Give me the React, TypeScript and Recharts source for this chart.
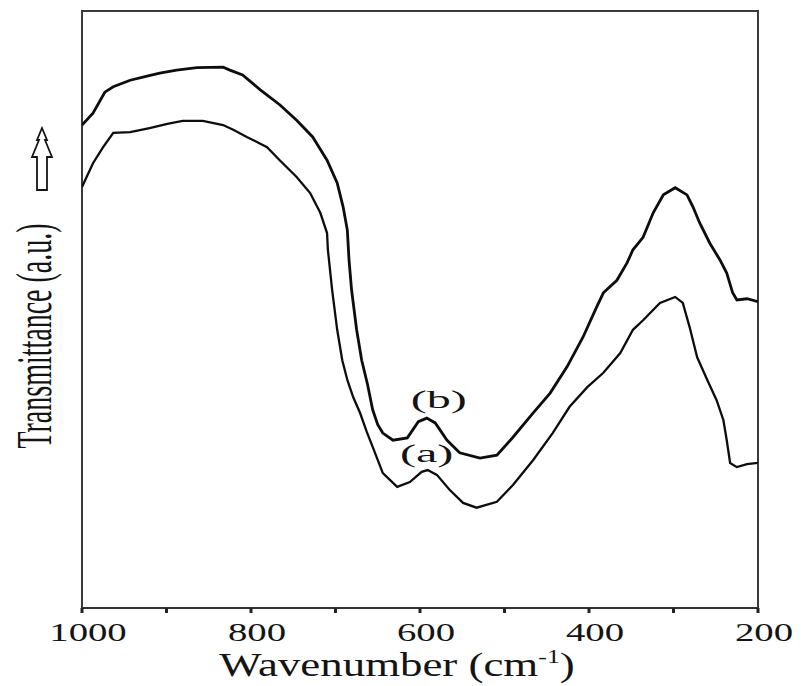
import React from "react";
import { LineChart, Line, XAxis, YAxis, ReferenceArea, ReferenceDot } from "recharts";

// Wavenumber (cm^-1) and transmittance (a.u.) for sample (a)
const waveA = [1000, 987, 975, 963, 943, 920, 899, 881, 857, 833, 821, 805, 781, 766, 746, 730, 718, 710, 709, 704, 698, 692, 686, 679, 671, 663, 656, 644, 627, 612, 598, 591, 580, 565, 549, 533, 509, 490, 466, 443, 423, 402, 383, 363, 348, 336, 316, 298, 289, 281, 272, 260, 249, 241, 237, 233, 225, 213, 200];
const transA = [70.5, 74.5, 77.2, 79.6, 79.7, 80.4, 81.1, 81.6, 81.6, 80.9, 80.1, 78.9, 77.2, 75.0, 72.2, 69.5, 66.2, 62.8, 60.0, 53.3, 46.6, 41.5, 38.2, 35.3, 32.7, 29.5, 27.0, 22.6, 20.3, 21.1, 22.8, 23.1, 22.3, 19.8, 17.6, 16.8, 17.8, 20.6, 24.8, 29.3, 33.7, 37.0, 39.4, 42.7, 46.6, 48.2, 51.1, 52.1, 51.1, 47.1, 42.0, 38.2, 34.8, 31.5, 28.1, 24.3, 23.6, 24.1, 24.3];

// Wavenumber (cm^-1) and transmittance (a.u.) for sample (b)
const waveB = [1000, 987, 973, 963, 943, 923, 908, 888, 864, 833, 825, 810, 789, 766, 746, 727, 710, 698, 691, 686, 684, 681, 675, 669, 662, 656, 650, 644, 632, 615, 602, 592, 582, 568, 553, 529, 509, 490, 466, 446, 426, 407, 391, 383, 367, 355, 348, 336, 324, 312, 298, 284, 277, 269, 257, 245, 237, 230, 225, 213, 200];
const transB = [80.9, 82.9, 86.4, 87.3, 88.4, 89.1, 89.6, 90.1, 90.5, 90.6, 90.1, 89.3, 86.8, 84.3, 81.7, 78.9, 75.0, 71.2, 67.2, 63.3, 58.3, 53.3, 46.6, 41.5, 37.4, 33.2, 30.7, 29.3, 28.1, 28.5, 31.2, 31.8, 31.0, 28.1, 26.0, 25.1, 25.6, 28.6, 32.7, 36.0, 40.4, 45.4, 50.4, 52.8, 54.9, 57.8, 60.0, 62.1, 66.2, 69.2, 70.4, 69.2, 67.2, 64.5, 61.1, 58.3, 56.1, 52.8, 51.6, 51.8, 51.3];

const xTicks = [1000, 900, 800, 700, 600, 500, 400, 300, 200];
const xLabels = [1000, 800, 600, 400, 200];
const curveLabels = ["(a)", "(b)"];

const seriesA = waveA.map((wn, i) => ({ wn, t: transA[i] }));
const seriesB = waveB.map((wn, i) => ({ wn, t: transB[i] }));

const SERIF = "'Liberation Serif', 'Times New Roman', serif";
const INK = "#141414";

const XTick = (props: any) => {
  const { x, y, payload } = props;
  if (!xLabels.includes(payload.value)) return null;
  return (
    <g transform={`translate(${x + 6},${y}) scale(1.55,1)`}>
      <text x={0} y={26} textAnchor="middle" fontFamily={SERIF} fontSize={25} fill={INK}>
        {payload.value}
      </text>
    </g>
  );
};

const CurveLabel = ({ viewBox, text, dx, dy }: any) => {
  if (!viewBox) return null;
  return (
    <g transform={`translate(${viewBox.x + dx},${viewBox.y + dy}) scale(1.85,1)`}>
      <text x={0} y={0} textAnchor="middle" fontFamily={SERIF} fontSize={26} fill={INK}>
        {text}
      </text>
    </g>
  );
};

export default function App() {
  return (
    <div style={{ position: "absolute", left: 0, top: 0, width: 806, height: 686, background: "#fff" }}>
      <LineChart
        width={806}
        height={686}
        margin={{ top: 11, right: 48, bottom: 38, left: 82 }}
      >
        <XAxis
          dataKey="wn"
          type="number"
          domain={[200, 1000]}
          reversed
          ticks={xTicks}
          interval={0}
          allowDataOverflow
          height={40}
          axisLine={{ stroke: "#333", strokeWidth: 2 }}
          tickLine={{ stroke: "#222", strokeWidth: 3 }}
          tickSize={5}
          tick={<XTick />}
        />
        <YAxis type="number" domain={[0, 100]} hide allowDataOverflow />
        <ReferenceArea
          x1={1000}
          x2={200}
          y1={0}
          y2={100}
          fill="none"
          stroke="#3a3a3a"
          strokeWidth={2}
          ifOverflow="visible"
        />
        <Line
          data={seriesB}
          dataKey="t"
          type="linear"
          stroke="#0d0d0d"
          strokeWidth={2.8}
          dot={false}
          isAnimationActive={false}
        />
        <Line
          data={seriesA}
          dataKey="t"
          type="linear"
          stroke="#0d0d0d"
          strokeWidth={2.3}
          dot={false}
          isAnimationActive={false}
        />
        <ReferenceDot
          x={592}
          y={31.8}
          r={1}
          fill="none"
          stroke="none"
          label={<CurveLabel text={curveLabels[1]} dx={13} dy={-9} />}
        />
        <ReferenceDot
          x={591}
          y={23.1}
          r={1}
          fill="none"
          stroke="none"
          label={<CurveLabel text={curveLabels[0]} dx={0} dy={-7} />}
        />
      </LineChart>
      <svg
        width={806}
        height={686}
        style={{ position: "absolute", left: 0, top: 0, pointerEvents: "none" }}
      >
        <g transform="translate(397,676) scale(1.36,1)">
          <text x={0} y={0} textAnchor="middle" fontFamily={SERIF} fontSize={33} fill={INK}>
            Wavenumber (cm
            <tspan fontSize={19} dy={-13}>-1</tspan>
            <tspan dy={13}>)</tspan>
          </text>
        </g>
        <g transform="translate(34,336) scale(1.8,1) rotate(-90)">
          <text x={0} y={0} textAnchor="middle" dominantBaseline="central" fontFamily={SERIF} fontSize={28} fill={INK}>
            Transmittance (a.u.)
          </text>
        </g>
        <path
          d="M42,128 L37,140 L39,140 L32,157 L37,157 L37,190 L47,190 L47,157 L52,157 L45,140 L47,140 Z"
          fill="#fff"
          stroke={INK}
          strokeWidth={1.8}
          strokeLinejoin="miter"
        />
      </svg>
    </div>
  );
}
